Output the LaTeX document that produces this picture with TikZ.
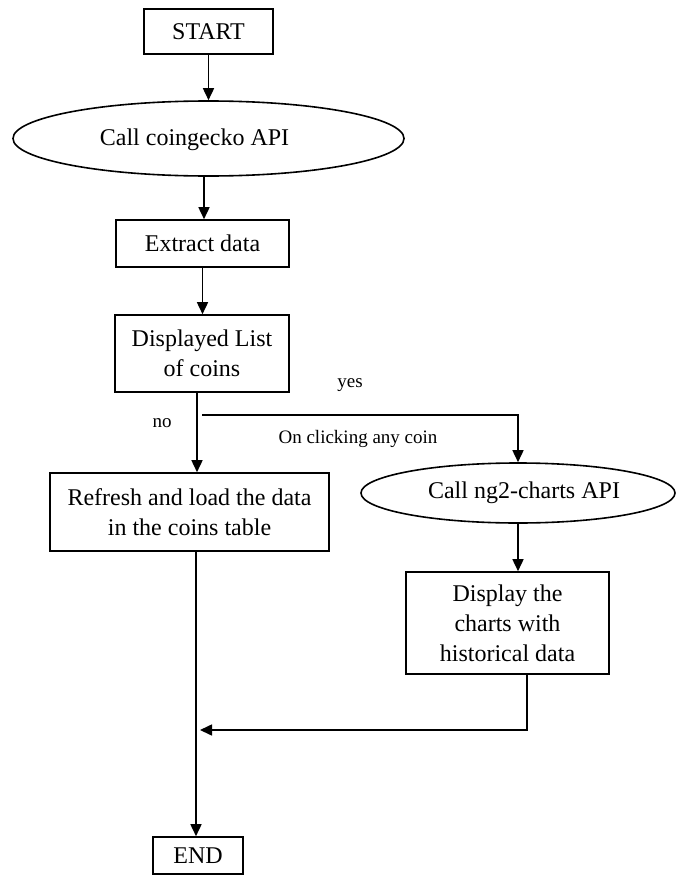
\documentclass[tikz,border=0pt]{standalone}
\usepackage{fontspec}
\setmainfont{Liberation Serif}
\usetikzlibrary{arrows.meta,shapes.geometric,calc}
\begin{document}
\begin{tikzpicture}[x=1pt,y=-1pt,
  line width=1.6pt,
  box/.style={draw, rectangle, inner sep=0pt, align=center, font=\fontsize{24}{30}\selectfont},
  oval/.style={draw, ellipse, inner sep=0pt},
  ovaltext/.style={font=\fontsize{24}{30}\selectfont, inner sep=0pt},
  lbl/.style={font=\fontsize{19}{23}\selectfont, inner sep=0pt},
  arr/.style={-{Triangle[length=12pt,width=11pt]}},
]
\useasboundingbox (0,0) rectangle (683,875);
\node[box, minimum width=129pt, minimum height=45pt] (start) at (208.5,31.5) {START};
\node[oval, minimum width=391pt, minimum height=75pt,
  label={[ovaltext, xshift=-14pt, yshift=-1pt]center:Call coingecko API}] (ell1) at (208.5,138.5) {};
\node[box, minimum width=173pt, minimum height=47pt] (extract) at (202.5,243.5) {Extract data};
\node[box, minimum width=174pt, minimum height=77pt] (disp) at (202,353.5) {Displayed List\\of coins};
\node[box, minimum width=279pt, minimum height=78pt] (refresh) at (189.5,512) {Refresh and load the data\\in the coins table};
\node[oval, minimum width=314pt, minimum height=60pt,
  label={[ovaltext, xshift=6pt]center:Call ng2-charts API}] (ell2) at (518,493) {};
\node[box, minimum width=203pt, minimum height=102pt] (charts) at (507.5,623) {Display the\\charts with\\historical data};
\node[box, minimum width=90pt, minimum height=37pt] (endn) at (198,855.5) {END};

\node[lbl] (yes) at (350,385) {yes};
\node[lbl] (no) at (162,423) {no};
\node[lbl] (click) at (358,439) {On clicking any coin};

\coordinate (br) at (202,415);
\coordinate (join) at (200,730);

\draw[arr] (start.south) -- (start.south |- ell1.north);
\draw[arr] (ell1.south -| 204,0) -- (extract.north -| 204,0);
\draw[arr] (extract.south) -- (extract.south |- disp.north);
\draw[arr] (disp.south -| 197,0) -- (refresh.north -| 197,0);
\draw[arr] (br) -| (ell2.north);
\draw[arr] (ell2.south) -- (ell2.south |- charts.north);
\draw[arr] (charts.south -| 527,0) |- (join);
\draw[arr] (refresh.south -| 196,0) -- (endn.north -| 196,0);
\end{tikzpicture}
\end{document}
